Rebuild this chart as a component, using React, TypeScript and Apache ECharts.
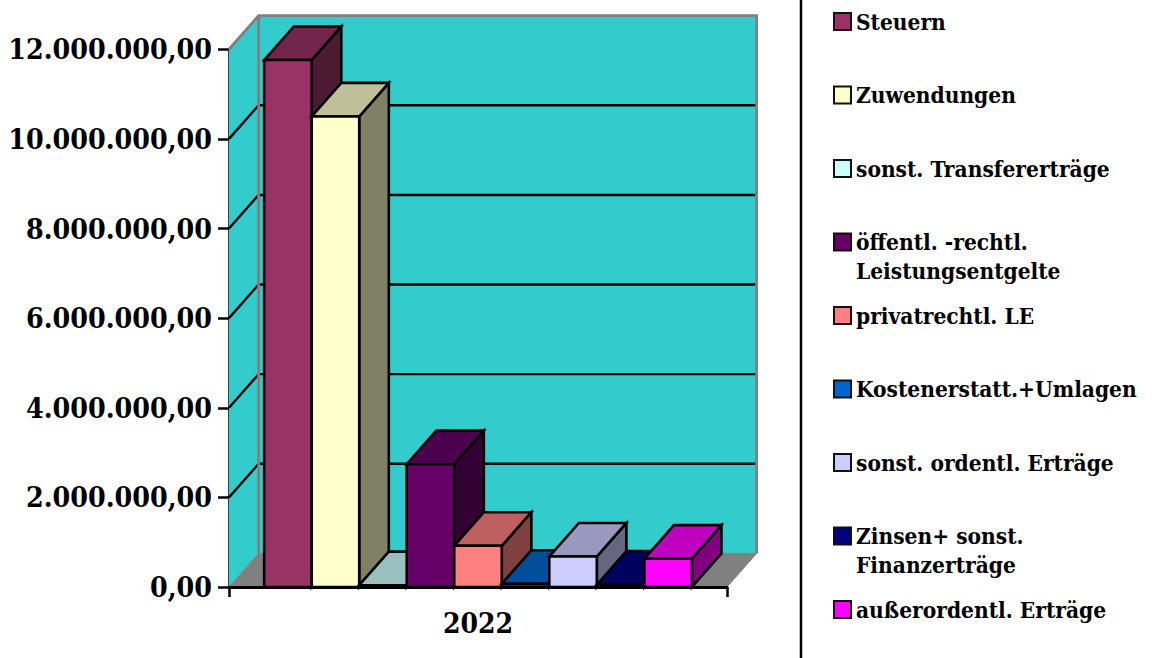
import React, { useEffect, useRef } from "react";
import * as echarts from "echarts";

const categories = ["2022"];
const seriesNames = [
  "Steuern",
  "Zuwendungen",
  "sonst. Transfererträge",
  "öffentl. -rechtl. Leistungsentgelte",
  "privatrechtl. LE",
  "Kostenerstatt.+Umlagen",
  "sonst. ordentl. Erträge",
  "Zinsen+ sonst. Finanzerträge",
  "außerordentl. Erträge",
];
const seriesValues = [11760000, 10500000, 40000, 2740000, 920000, 70000, 680000, 50000, 630000];
const gridTicks = [2000000, 4000000, 6000000, 8000000, 10000000];
const legendLabels = [
  "Steuern",
  "Zuwendungen",
  "sonst. Transfererträge",
  "\nöffentl. -rechtl.\nLeistungsentgelte",
  "privatrechtl. LE",
  "Kostenerstatt.+Umlagen",
  "sonst. ordentl. Erträge",
  "\nZinsen+ sonst.\nFinanzerträge",
  "außerordentl. Erträge",
];
const palette = ["#993366", "#FFFFCC", "#CCFFFF", "#660066", "#FF8080", "#0066CC", "#CCCCFF", "#000080", "#FF00FF"];

const FONT = "DejaVu Serif Condensed";
const DEPTH_X = 29.6;
const DEPTH_Y = -33.6;
const BAND_BARS = 10.48;
const LEGEND_STEP = 73.5;
const LEGEND_FIRST = 21.5;
const LEGEND_LINE = 29;

function shade(hex: string, k: number) {
  const n = parseInt(hex.slice(1), 16);
  const c = [(n >> 16) & 255, (n >> 8) & 255, n & 255].map((v) => Math.round(v * k));
  return `rgb(${c[0]},${c[1]},${c[2]})`;
}

function germanNumber(v: number) {
  return (
    String(Math.round(v)).replace(/\B(?=(\d{3})+(?!\d))/g, ".") + ",00"
  );
}

function wallItem(params: any, api: any) {
  const cs = params.coordSys;
  const x0 = cs.x;
  const x1 = cs.x + cs.width;
  const yBottom = api.coord([0, 0])[1];
  const yTop = api.coord([0, 12000000])[1];
  const bx0 = x0 + DEPTH_X;
  const bx1 = x1 + DEPTH_X;
  const byB = yBottom + DEPTH_Y;
  const byT = yTop + DEPTH_Y;
  const gray = "#808080";
  const children: any[] = [
    {
      type: "polygon",
      shape: { points: [[bx0, byT], [bx1, byT], [bx1, byB], [bx0, byB]] },
      style: { fill: "#33CCCC" },
    },
    {
      type: "polygon",
      shape: { points: [[x0, yTop], [bx0, byT], [bx0, byB], [x0, yBottom]] },
      style: { fill: "#33CCCC" },
    },
    {
      type: "polygon",
      shape: { points: [[x0, yBottom], [bx0, byB], [bx1, byB], [x1, yBottom]] },
      style: { fill: gray, stroke: gray, lineWidth: 1 },
    },
  ];
  gridTicks.forEach((t) => {
    const y = api.coord([0, t])[1];
    children.push({
      type: "polyline",
      shape: { points: [[x0, y], [bx0, y + DEPTH_Y], [bx1 - 1, y + DEPTH_Y]] },
      style: { fill: "none", stroke: "#000", lineWidth: 2.4 },
    });
  });
  children.push({
    type: "polyline",
    shape: { points: [[x0, yTop], [bx0, byT], [bx1, byT], [bx1, byB]] },
    style: { fill: "none", stroke: gray, lineWidth: 2.8 },
  });
  children.push({
    type: "line",
    shape: { x1: bx0, y1: byT, x2: bx0, y2: byB },
    style: { stroke: gray, lineWidth: 2.8 },
  });
  return { type: "group", children };
}

function barItem(index: number) {
  return (_params: any, api: any) => {
    const color = palette[index];
    const band = api.size([1, 0])[0];
    const barW = band / BAND_BARS;
    const top = api.coord([0, api.value(1)]);
    const base = api.coord([0, 0]);
    const l = top[0] - (seriesNames.length / 2) * barW + index * barW;
    const r = l + barW;
    const yT = top[1];
    const yB = base[1];
    const stroke = { stroke: "#000", lineWidth: 2.6, lineJoin: "miter" };
    return {
      type: "group",
      children: [
        {
          type: "polygon",
          shape: { points: [[r, yT], [r + DEPTH_X, yT + DEPTH_Y], [r + DEPTH_X, yB + DEPTH_Y], [r, yB]] },
          style: { fill: shade(color, 0.5), ...stroke },
        },
        {
          type: "polygon",
          shape: { points: [[l, yT], [l + DEPTH_X, yT + DEPTH_Y], [r + DEPTH_X, yT + DEPTH_Y], [r, yT]] },
          style: { fill: shade(color, 0.75), ...stroke },
        },
        {
          type: "polygon",
          shape: { points: [[l, yT], [r, yT], [r, yB], [l, yB]] },
          style: { fill: color, ...stroke },
        },
      ],
    };
  };
}

export default function App() {
  const ref = useRef<HTMLDivElement>(null);
  useEffect(() => {
    const chart = echarts.init(ref.current!, undefined, { renderer: "svg" });
    chart.setOption({
      animation: false,
      backgroundColor: "#fff",
      textStyle: { fontFamily: FONT },
      grid: { left: 229, top: 49.3, width: 498, height: 537.7, containLabel: false },
      xAxis: {
        type: "category",
        data: categories,
        z: 5,
        axisLine: { lineStyle: { color: "#000", width: 3 } },
        axisTick: { show: true, interval: 0, length: 10, lineStyle: { color: "#000", width: 2.5 } },
        axisLabel: { color: "#000", fontFamily: FONT, fontWeight: "bold", fontSize: 28, margin: 22 },
      },
      yAxis: {
        type: "value",
        min: 0,
        max: 12000000,
        interval: 2000000,
        axisLine: { show: true, lineStyle: { color: "#000", width: 2.5 } },
        axisTick: { show: true, length: 11, lineStyle: { color: "#000", width: 2.5 } },
        splitLine: { show: false },
        axisLabel: {
          color: "#000",
          fontFamily: FONT,
          fontWeight: "bold",
          fontSize: 28.3,
          margin: 17,
          formatter: germanNumber,
        },
      },
      legend: seriesNames.map((name, i) => {
        const multi = legendLabels[i].startsWith("\n");
        const center = LEGEND_FIRST + i * LEGEND_STEP;
        return {
          data: [name],
          left: 833,
          top: center - (multi ? 1.5 : 0.5) * LEGEND_LINE,
          padding: 0,
          icon: "rect",
          itemWidth: 17,
          itemHeight: 17,
          selectedMode: false,
          formatter: () => legendLabels[i],
          itemStyle: { color: palette[i], borderColor: "#111", borderWidth: 2 },
          textStyle: {
            color: "#000",
            fontFamily: FONT,
            fontWeight: "bold",
            fontSize: 22.5,
            lineHeight: LEGEND_LINE,
          },
        };
      }),
      graphic: [
        {
          type: "line",
          shape: { x1: 801, y1: 0, x2: 801, y2: 658 },
          style: { stroke: "#000", lineWidth: 2.5 },
        },
      ],
      series: [
        {
          type: "custom",
          name: "wall",
          silent: true,
          data: [[0, 0]],
          renderItem: wallItem,
          z: 1,
        },
        ...seriesNames.map((name, i) => ({
          type: "custom",
          name,
          data: [[0, seriesValues[i]]],
          renderItem: barItem(i),
          itemStyle: { color: palette[i] },
          z: 2,
        })),
      ],
    });
    return () => chart.dispose();
  }, []);
  return (
    <div
      ref={ref}
      style={{ position: "absolute", left: 0, top: 0, width: 1153, height: 658 }}
    />
  );
}
